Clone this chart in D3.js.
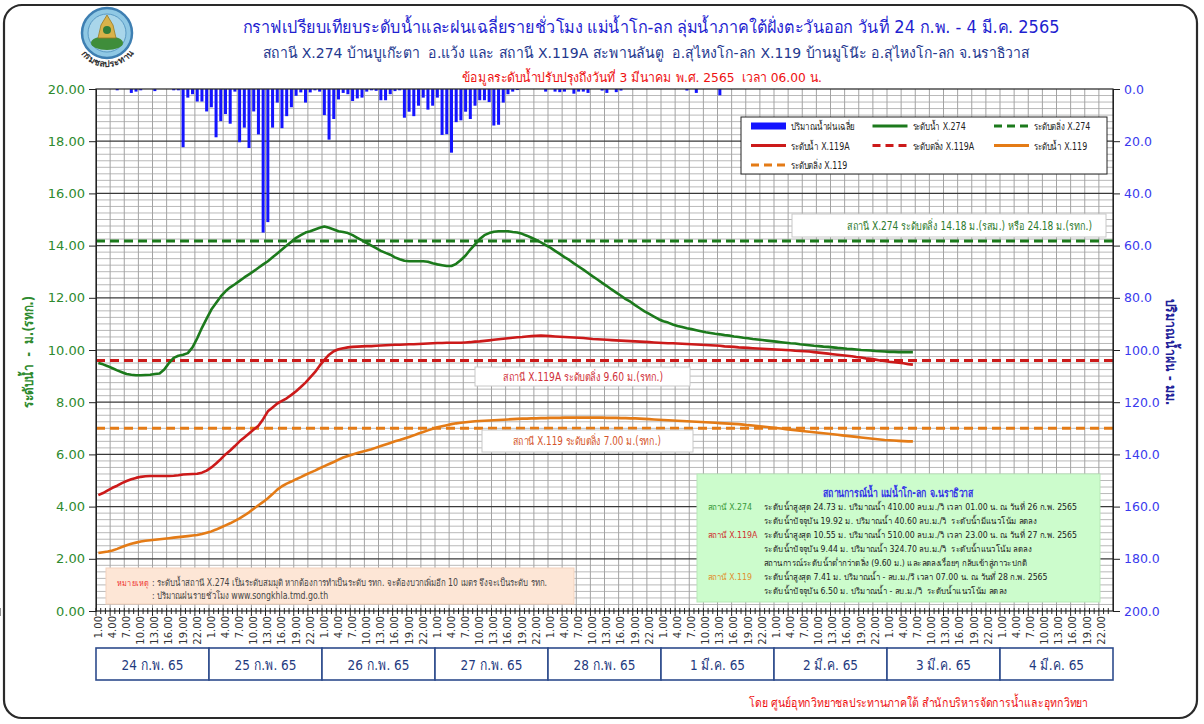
<!DOCTYPE html>
<html>
<head>
<meta charset="utf-8">
<script src="https://cdn.jsdelivr.net/npm/d3@7"></script>
<style>
  html, body { margin: 0; padding: 0; background: #fff; }
  svg { display: block; font-family: Tahoma, "DejaVu Sans", sans-serif; }
</style>
</head>
<body>
<svg id="chart" width="1204" height="724"></svg>
<script>
// ---- categories ----
const days = ['24 ก.พ. 65', '25 ก.พ. 65', '26 ก.พ. 65', '27 ก.พ. 65', '28 ก.พ. 65',
              '1 มี.ค. 65', '2 มี.ค. 65', '3 มี.ค. 65', '4 มี.ค. 65'];
const hours = d3.range(1, 25);            // hourly readings 1.00 .. 24.00
const levelTicks = d3.range(0, 20.001, 2);
const rainTicks = d3.range(0, 200.001, 20);

// ---- bank levels ----
const bankX274 = 14.18;
const bankX119A = 9.60;
const bankX119 = 7.00;

// ---- hourly water level X.274 (m, assumed datum) ----
const levelX274 = [
  9.50, 9.45, 9.38, 9.30, 9.22, 9.15, 9.08, 9.05, 9.03, 9.03, 9.04, 9.05, 9.08, 9.10, 9.25, 9.50, 9.70, 9.78, 9.82, 9.88, 10.10, 10.45, 10.85, 11.20,
  11.55, 11.80, 12.05, 12.25, 12.40, 12.52, 12.65, 12.78, 12.90, 13.02, 13.15, 13.28, 13.40, 13.55, 13.70, 13.85, 14.00, 14.15, 14.30, 14.40, 14.50, 14.55, 14.62, 14.68,
  14.73, 14.68, 14.62, 14.55, 14.52, 14.48, 14.40, 14.30, 14.20, 14.10, 14.00, 13.90, 13.80, 13.72, 13.65, 13.55, 13.48, 13.42, 13.40, 13.40, 13.40, 13.40, 13.38, 13.32,
  13.28, 13.25, 13.22, 13.22, 13.30, 13.45, 13.62, 13.85, 14.05, 14.25, 14.40, 14.48, 14.53, 14.55, 14.55, 14.55, 14.52, 14.50, 14.45, 14.38, 14.30, 14.22, 14.12, 14.02,
  13.92, 13.80, 13.68, 13.56, 13.45, 13.32, 13.20, 13.08, 12.95, 12.82, 12.70, 12.57, 12.45, 12.32, 12.20, 12.08, 11.95, 11.85, 11.72, 11.60, 11.48, 11.38, 11.28, 11.18,
  11.10, 11.05, 10.98, 10.92, 10.88, 10.83, 10.80, 10.76, 10.72, 10.68, 10.65, 10.62, 10.60, 10.57, 10.55, 10.52, 10.50, 10.47, 10.45, 10.42, 10.40, 10.38, 10.36, 10.34,
  10.32, 10.30, 10.28, 10.26, 10.25, 10.22, 10.20, 10.18, 10.16, 10.15, 10.13, 10.12, 10.10, 10.08, 10.07, 10.05, 10.04, 10.02, 10.00, 9.99, 9.98, 9.96, 9.95, 9.94,
  9.93, 9.93, 9.92, 9.92, 9.92, 9.92
];

// ---- hourly water level X.119A (m MSL) ----
const levelX119A = [
  4.44, 4.52, 4.62, 4.72, 4.80, 4.90, 4.98, 5.05, 5.10, 5.14, 5.16, 5.17, 5.17, 5.17, 5.17, 5.17, 5.18, 5.20, 5.23, 5.24, 5.25, 5.26, 5.30, 5.38,
  5.50, 5.65, 5.82, 6.00, 6.15, 6.32, 6.50, 6.65, 6.80, 6.95, 7.10, 7.35, 7.65, 7.80, 7.95, 8.05, 8.15, 8.28, 8.42, 8.58, 8.75, 8.95, 9.15, 9.40,
  9.62, 9.82, 9.95, 10.03, 10.07, 10.10, 10.12, 10.13, 10.14, 10.15, 10.15, 10.16, 10.17, 10.18, 10.19, 10.20, 10.20, 10.21, 10.22, 10.22, 10.23, 10.24, 10.25, 10.26,
  10.27, 10.27, 10.28, 10.28, 10.28, 10.28, 10.29, 10.30, 10.32, 10.33, 10.35, 10.37, 10.39, 10.41, 10.43, 10.45, 10.47, 10.49, 10.50, 10.52, 10.53, 10.54, 10.55, 10.54,
  10.53, 10.52, 10.51, 10.50, 10.49, 10.48, 10.47, 10.46, 10.44, 10.42, 10.41, 10.40, 10.39, 10.38, 10.37, 10.36, 10.35, 10.34, 10.33, 10.32, 10.31, 10.30, 10.29, 10.28,
  10.27, 10.26, 10.26, 10.25, 10.24, 10.23, 10.22, 10.21, 10.20, 10.19, 10.18, 10.17, 10.16, 10.14, 10.13, 10.12, 10.10, 10.09, 10.08, 10.07, 10.06, 10.05, 10.04, 10.03,
  10.02, 10.01, 10.00, 9.99, 9.97, 9.96, 9.95, 9.94, 9.92, 9.90, 9.88, 9.86, 9.84, 9.82, 9.80, 9.78, 9.76, 9.73, 9.71, 9.68, 9.66, 9.63, 9.60, 9.58,
  9.55, 9.53, 9.51, 9.49, 9.46, 9.44
];

// ---- hourly water level X.119 (m MSL) ----
const levelX119 = [
  2.22, 2.25, 2.28, 2.32, 2.38, 2.45, 2.52, 2.58, 2.62, 2.66, 2.69, 2.71, 2.73, 2.75, 2.77, 2.79, 2.81, 2.83, 2.85, 2.87, 2.89, 2.91, 2.95, 3.00,
  3.05, 3.12, 3.20, 3.28, 3.36, 3.45, 3.55, 3.66, 3.78, 3.92, 4.05, 4.18, 4.32, 4.48, 4.65, 4.78, 4.88, 4.96, 5.05, 5.13, 5.22, 5.30, 5.38, 5.47,
  5.55, 5.63, 5.71, 5.80, 5.88, 5.94, 6.00, 6.05, 6.10, 6.15, 6.20, 6.26, 6.32, 6.38, 6.44, 6.50, 6.55, 6.61, 6.67, 6.73, 6.80, 6.86, 6.92, 6.98,
  7.04, 7.08, 7.12, 7.16, 7.19, 7.21, 7.23, 7.25, 7.27, 7.28, 7.29, 7.30, 7.31, 7.32, 7.33, 7.34, 7.35, 7.36, 7.37, 7.37, 7.38, 7.38, 7.39, 7.39,
  7.40, 7.40, 7.40, 7.41, 7.41, 7.41, 7.41, 7.41, 7.41, 7.41, 7.41, 7.41, 7.40, 7.40, 7.40, 7.39, 7.39, 7.38, 7.38, 7.37, 7.36, 7.35, 7.34, 7.33,
  7.32, 7.31, 7.30, 7.29, 7.28, 7.27, 7.26, 7.25, 7.24, 7.23, 7.22, 7.21, 7.20, 7.19, 7.18, 7.17, 7.16, 7.14, 7.12, 7.11, 7.09, 7.07, 7.05, 7.03,
  7.01, 6.99, 6.97, 6.95, 6.93, 6.91, 6.89, 6.87, 6.85, 6.83, 6.81, 6.79, 6.77, 6.75, 6.73, 6.71, 6.69, 6.67, 6.65, 6.63, 6.61, 6.59, 6.57, 6.55,
  6.54, 6.53, 6.52, 6.51, 6.50, 6.50
];

// ---- hourly average rainfall (mm) ----
const rainfall = [
  0, 0, 0, 0, 0.5, 0, 0, 1.5, 1.0, 0.5, 0, 0, 0.8, 0, 0, 0, 0.5, 0.5, 22.3, 3.3, 2.0, 4.8, 4.8, 8.6,
  7.0, 18.5, 12.3, 9.6, 13.3, 1.0, 20.4, 14.8, 22.6, 8.6, 17.4, 55.0, 51.0, 14.8, 5.2, 15.0, 10.4, 7.0, 2.6, 1.3, 5.2, 1.3, 0.5, 1.0,
  10.0, 19.4, 11.5, 4.0, 1.5, 2.0, 4.6, 3.6, 3.3, 1.0, 0.5, 0.7, 4.3, 4.3, 2.0, 0.8, 0.5, 11.0, 8.7, 10.4, 6.4, 3.3, 7.9, 6.4,
  3.3, 17.6, 17.3, 24.4, 12.7, 12.0, 8.7, 11.5, 6.4, 4.3, 4.3, 5.0, 14.0, 13.7, 5.2, 2.0, 1.0, 0.4, 0, 0, 0, 0, 0, 1.0,
  0, 1.0, 1.2, 1.0, 0, 1.8, 1.0, 1.0, 1.5, 0, 0, 0.6, 1.5, 0, 1.2, 0.6, 0, 0, 0, 0, 0, 0, 0, 0,
  0, 0, 0, 0, 0, 0.6, 0, 1.5, 0, 0, 0, 0, 2.4, 0, 0, 0, 0, 0, 0, 0, 0, 0, 0, 0
];

// ---- colours ----
const C = {
  green: '#1c7a1c', red: '#cc1a1a', orange: '#e47b16', rain: '#1414ff',
  axisGreen: '#2e8a2e', axisBlue: '#3a3aee', navy: '#23408c'
};

// ---- layout ----
const plot = { left: 96, right: 1113, top: 89, bottom: 611 };
const nCat = days.length * hours.length;
const categories = days.flatMap((d, di) => hours.map(h => ({ day: di, hour: h })));

const svg = d3.select('#chart');

// condense a text horizontally so that it spans at most the given width;
// returns the ratio applied so sibling lines can share it
function squeeze(sel, width) {
  const len = sel.node().getComputedTextLength();
  const r = Math.min(1, width / len);
  if (r < 1) sel.attr('textLength', len * r).attr('lengthAdjust', 'spacingAndGlyphs');
  return r;
}
function squeezeBy(sel, r) {
  const len = sel.node().getComputedTextLength();
  if (r < 1) sel.attr('textLength', len * r).attr('lengthAdjust', 'spacingAndGlyphs');
}

const x = d3.scaleBand().domain(d3.range(nCat))
  .range([plot.left, plot.right]).paddingInner(0.36).paddingOuter(0.18);
const cx = i => x(i) + x.bandwidth() / 2;
const edge = i => x(i) - (x.step() - x.bandwidth()) / 2;   // category boundary
const yLevel = d3.scaleLinear().domain([0, 20]).range([plot.bottom, plot.top]);
const yRain = d3.scaleLinear().domain([0, 200]).range([plot.top, plot.bottom]);

// outer frame
svg.append('rect').attr('x', 4).attr('y', 5).attr('width', 1193).attr('height', 713)
  .attr('rx', 18).attr('fill', '#fff').attr('stroke', '#2a2a2a').attr('stroke-width', 2.2);

// ---- emblem ----
const logo = svg.append('g').attr('transform', 'translate(107,33)');
logo.append('circle').attr('r', 25).attr('fill', '#8fc8e4').attr('stroke', '#3e7fb2').attr('stroke-width', 2.5);
logo.append('circle').attr('r', 19).attr('fill', '#a9d6ea').attr('stroke', '#5a9ac4').attr('stroke-width', 1);
logo.append('ellipse').attr('cx', 0).attr('cy', 10).attr('rx', 16).attr('ry', 7).attr('fill', '#3f8d3a');
logo.append('path').attr('d', 'M0,-18 L6,-8 L9,5 L-9,5 L-6,-8 Z').attr('fill', '#d8b24a').attr('stroke', '#9a7a22').attr('stroke-width', 0.8);
logo.append('circle').attr('cx', 0).attr('cy', -3).attr('r', 4).attr('fill', '#2f7d3a');
logo.append('path').attr('id', 'logoArc').attr('d', 'M-31,12 A33,33 0 0,0 31,12').attr('fill', 'none');
logo.append('text').attr('font-size', 9).attr('font-weight', 'bold').attr('fill', '#333')
  .append('textPath').attr('href', '#logoArc').attr('startOffset', '50%').attr('text-anchor', 'middle')
  .text('กรมชลประทาน');

// ---- titles ----
const t1 = svg.append('text').attr('x', 651).attr('y', 33).attr('text-anchor', 'middle')
  .attr('font-size', 17).attr('fill', '#1f1fd0')
  .text('กราฟเปรียบเทียบระดับน้ำและฝนเฉลี่ยรายชั่วโมง แม่น้ำโก-ลก ลุ่มน้ำภาคใต้ฝั่งตะวันออก วันที่ 24 ก.พ. - 4 มี.ค. 2565');
squeeze(t1, 817);
const t2 = svg.append('text').attr('x', 646).attr('y', 58).attr('text-anchor', 'middle')
  .attr('font-size', 14.5).attr('fill', '#24388e').style('white-space', 'pre')
  .text('สถานี X.274 บ้านบูเก๊ะตา  อ.แว้ง และ สถานี X.119A สะพานลันตู  อ.สุไหงโก-ลก X.119 บ้านมูโน๊ะ อ.สุไหงโก-ลก จ.นราธิวาส');
squeeze(t2, 767);
const t3 = svg.append('text').attr('x', 642).attr('y', 82).attr('text-anchor', 'middle')
  .attr('font-size', 13).attr('fill', '#ee1111').style('white-space', 'pre')
  .text('ข้อมูลระดับน้ำปรับปรุงถึงวันที่ 3 มีนาคม พ.ศ. 2565  เวลา 06.00 น.');
squeeze(t3, 360);

// ---- grid ----
const grid = svg.append('g');
grid.append('rect').attr('x', plot.left).attr('y', plot.top)
  .attr('width', plot.right - plot.left).attr('height', plot.bottom - plot.top).attr('fill', '#fff');
const minorLevels = d3.range(0, 20.001, 0.25).filter(v => Math.abs(v / 2 - Math.round(v / 2)) > 1e-6);
grid.selectAll('.hminor').data(minorLevels).join('line')
  .attr('x1', plot.left).attr('x2', plot.right)
  .attr('y1', d => yLevel(d)).attr('y2', d => yLevel(d))
  .attr('stroke', '#b9b9b9').attr('stroke-width', 1);
grid.selectAll('.vgrid').data(d3.range(3, nCat, 3)).join('line')
  .attr('x1', d => edge(d)).attr('x2', d => edge(d))
  .attr('y1', plot.top).attr('y2', plot.bottom)
  .attr('stroke', '#a3a3a3').attr('stroke-width', 1);
grid.selectAll('.hmajor').data(levelTicks.slice(1, -1)).join('line')
  .attr('x1', plot.left).attr('x2', plot.right)
  .attr('y1', d => yLevel(d)).attr('y2', d => yLevel(d))
  .attr('stroke', '#3a3a3a').attr('stroke-width', 1.2);

// ---- rainfall bars (hanging from the top, secondary axis) ----
svg.append('g').selectAll('rect').data(rainfall.map((v, i) => ({ v, i })).filter(d => d.v > 0)).join('rect')
  .attr('x', d => x(d.i)).attr('width', x.bandwidth())
  .attr('y', yRain(0)).attr('height', d => yRain(d.v) - yRain(0))
  .attr('fill', C.rain);

// ---- bank level lines ----
const banks = [
  { v: bankX274, color: C.green },
  { v: bankX119A, color: C.red },
  { v: bankX119, color: C.orange }
];
svg.append('g').selectAll('line').data(banks).join('line')
  .attr('x1', plot.left).attr('x2', plot.right)
  .attr('y1', d => yLevel(d.v)).attr('y2', d => yLevel(d.v))
  .attr('stroke', d => d.color).attr('stroke-width', 3).attr('stroke-dasharray', '9,5');

// ---- water level lines ----
const line = d3.line().x((d, i) => cx(i)).y(d => yLevel(d));
[[levelX119, C.orange], [levelX119A, C.red], [levelX274, C.green]].forEach(([s, col]) => {
  svg.append('path').datum(s).attr('d', line).attr('fill', 'none')
    .attr('stroke', col).attr('stroke-width', 2.6).attr('stroke-linejoin', 'round');
});

// ---- plot frame ----
svg.append('rect').attr('x', plot.left).attr('y', plot.top)
  .attr('width', plot.right - plot.left).attr('height', plot.bottom - plot.top)
  .attr('fill', 'none').attr('stroke', '#222').attr('stroke-width', 1.2);

// ---- left axis ----
const gL = svg.append('g').attr('transform', `translate(${plot.left},0)`);
gL.call(d3.axisLeft(yLevel).tickValues(d3.range(0, 20.001, 0.25)).tickSize(-4).tickFormat(''));
gL.call(d3.axisLeft(yLevel).tickValues(levelTicks).tickSize(7).tickPadding(4).tickFormat(d3.format('.2f')));
gL.selectAll('text').attr('font-size', 13).attr('font-family', 'Tahoma, "DejaVu Sans", sans-serif').attr('fill', C.axisGreen);
gL.selectAll('line').attr('stroke', '#222');
gL.selectAll('.domain').attr('stroke', '#222');

// ---- right axis ----
const gR = svg.append('g').attr('transform', `translate(${plot.right},0)`);
gR.call(d3.axisRight(yRain).tickValues(d3.range(0, 200.001, 2.5)).tickSize(-4).tickFormat(''));
gR.call(d3.axisRight(yRain).tickValues(rainTicks).tickSize(7).tickPadding(4).tickFormat(d3.format('.1f')));
gR.selectAll('text').attr('font-size', 12.5).attr('font-family', 'Tahoma, "DejaVu Sans", sans-serif').attr('fill', C.axisBlue);
gR.selectAll('line').attr('stroke', '#222');
gR.selectAll('.domain').attr('stroke', '#222');

// ---- axis titles ----
const yTitleL = svg.append('text').attr('transform', 'translate(33,352) rotate(-90)').attr('text-anchor', 'middle')
  .attr('font-size', 14).attr('font-weight', 'bold').attr('fill', C.axisGreen).style('white-space', 'pre')
  .text('ระดับน้ำ  -  ม.(รทก.)');
squeeze(yTitleL, 112);
const yTitleR = svg.append('text').attr('transform', 'translate(1166,352) rotate(90)').attr('text-anchor', 'middle')
  .attr('font-size', 14).attr('font-weight', 'bold').attr('fill', '#22229a')
  .text('ปริมาณน้ำฝน - มม.');
squeeze(yTitleR, 107);

// ---- bottom axis: hour ticks and labels ----
const gB = svg.append('g');
gB.selectAll('line.tk').data(d3.range(0, nCat + 1)).join('line')
  .attr('x1', d => edge(d)).attr('x2', d => edge(d))
  .attr('y1', plot.bottom - 3).attr('y2', d => plot.bottom + (d % 3 === 0 ? 5 : 3))
  .attr('stroke', '#222').attr('stroke-width', 1);
gB.selectAll('text').data(d3.range(0, nCat, 3)).join('text')
  .attr('transform', d => `translate(${cx(d) + 3.5},616) rotate(-90)`)
  .attr('text-anchor', 'end').attr('font-size', 10).attr('fill', '#333')
  .text(d => categories[d].hour.toFixed(2));

// ---- day boxes ----
const gD = svg.append('g');
let dayRatio = null;
days.forEach((d, di) => {
  const a = edge(di * 24), b = di === days.length - 1 ? plot.right : edge(di * 24 + 24);
  gD.append('rect').attr('x', a).attr('y', 648).attr('width', b - a).attr('height', 32)
    .attr('fill', '#fff').attr('stroke', '#2d4b8c').attr('stroke-width', 1.6);
  const t = gD.append('text').attr('x', (a + b) / 2).attr('y', 670).attr('text-anchor', 'middle')
    .attr('font-size', 14.5).attr('fill', '#1f3a80').text(d);
  if (dayRatio === null) dayRatio = squeeze(t, 62); else squeezeBy(t, dayRatio);
});

// ---- bank annotations ----
function labelBox(x0, y0, w, h, txt, color, anchor, tx, tw) {
  svg.append('rect').attr('x', x0).attr('y', y0).attr('width', w).attr('height', h)
    .attr('fill', '#fff').attr('stroke', '#c8c8c8').attr('stroke-width', 1);
  const t = svg.append('text').attr('x', tx).attr('y', y0 + h / 2 + 4).attr('text-anchor', anchor)
    .attr('font-size', 11.5).attr('fill', color).text(txt);
  squeeze(t, tw);
}
labelBox(792, 214, 314, 23, 'สถานี X.274 ระดับตลิ่ง 14.18 ม.(รสม.) หรือ 24.18 ม.(รทก.)', '#2c7a2c', 'end', 1092, 245);
labelBox(475, 367, 215, 19, 'สถานี X.119A ระดับตลิ่ง 9.60 ม.(รทก.)', '#d0303a', 'middle', 583, 160);
labelBox(482, 430, 211, 22, 'สถานี X.119 ระดับตลิ่ง 7.00 ม.(รทก.)', '#d4552a', 'middle', 587, 148);

// ---- legend ----
const legendItems = [
  { label: 'ปริมาณน้ำฝนเฉลี่ย', type: 'bar', color: C.rain },
  { label: 'ระดับน้ำ X.274', type: 'line', color: C.green },
  { label: 'ระดับตลิ่ง X.274', type: 'dash', color: C.green },
  { label: 'ระดับน้ำ X.119A', type: 'line', color: C.red },
  { label: 'ระดับตลิ่ง X.119A', type: 'dash', color: C.red },
  { label: 'ระดับน้ำ X.119', type: 'line', color: C.orange },
  { label: 'ระดับตลิ่ง X.119', type: 'dash', color: C.orange }
];
const gLeg = svg.append('g');
gLeg.append('rect').attr('x', 741).attr('y', 117).attr('width', 366).attr('height', 57)
  .attr('fill', '#fff').attr('stroke', '#222').attr('stroke-width', 1);
let legRatio = null;
legendItems.forEach((it, k) => {
  const col = k % 3, row = Math.floor(k / 3);
  const lx = 751 + col * 121.5, ly = 126 + row * 19.5;
  if (it.type === 'bar') {
    gLeg.append('rect').attr('x', lx).attr('y', ly - 3.5).attr('width', 35).attr('height', 7).attr('fill', it.color);
  } else {
    gLeg.append('line').attr('x1', lx).attr('x2', lx + 35).attr('y1', ly).attr('y2', ly)
      .attr('stroke', it.color).attr('stroke-width', 3)
      .attr('stroke-dasharray', it.type === 'dash' ? '8,5' : null);
  }
  const t = gLeg.append('text').attr('x', lx + 40).attr('y', ly + 4).attr('font-size', 10)
    .attr('fill', '#222').text(it.label);
  if (legRatio === null) legRatio = squeeze(t, 64); else squeezeBy(t, legRatio);
});

// ---- status box ----
const gS = svg.append('g');
gS.append('rect').attr('x', 697).attr('y', 474).attr('width', 403).attr('height', 128)
  .attr('fill', '#ccfccc').attr('stroke', '#b8e8b8').attr('stroke-width', 1);
const sTitle = gS.append('text').attr('x', 898).attr('y', 497).attr('text-anchor', 'middle')
  .attr('font-size', 11.5).attr('font-weight', 'bold').attr('fill', '#3434e8')
  .text('สถานการณ์น้ำ แม่น้ำโก-ลก จ.นราธิวาส');
squeeze(sTitle, 150);
const statusRows = [
  { y: 510, tag: 'สถานี X.274', tagColor: '#3a9a3a', text: 'ระดับน้ำสูงสุด 24.73 ม. ปริมาณน้ำ 410.00 ลบ.ม./วิ เวลา 01.00 น. ณ วันที่ 26 ก.พ. 2565' },
  { y: 524, text: 'ระดับน้ำปัจจุบัน 19.92 ม. ปริมาณน้ำ 40.60 ลบ.ม./วิ  ระดับน้ำมีแนวโน้ม ลดลง' },
  { y: 538, tag: 'สถานี X.119A', tagColor: '#d03030', text: 'ระดับน้ำสูงสุด 10.55 ม. ปริมาณน้ำ 510.00 ลบ.ม./วิ เวลา 23.00 น. ณ วันที่ 27 ก.พ. 2565' },
  { y: 552, text: 'ระดับน้ำปัจจุบัน 9.44 ม. ปริมาณน้ำ 324.70 ลบ.ม./วิ  ระดับน้ำแนวโน้ม ลดลง' },
  { y: 566, text: 'สถานการณ์ระดับน้ำต่ำกว่าตลิ่ง (9.60 ม.) และลดลงเรื่อยๆ กลับเข้าสู่ภาวะปกติ' },
  { y: 580, tag: 'สถานี X.119', tagColor: '#e0902e', text: 'ระดับน้ำสูงสุด 7.41 ม. ปริมาณน้ำ - ลบ.ม./วิ เวลา 07.00 น. ณ วันที่ 28 ก.พ. 2565' },
  { y: 594, text: 'ระดับน้ำปัจจุบัน 6.50 ม. ปริมาณน้ำ - ลบ.ม./วิ  ระดับน้ำแนวโน้ม ลดลง' }
];
let rowRatio = null, tagRatio = null;
statusRows.forEach(r => {
  if (r.tag) {
    const tg = gS.append('text').attr('x', 708).attr('y', r.y).attr('font-size', 8.8)
      .attr('fill', r.tagColor).text(r.tag);
    if (tagRatio === null) tagRatio = squeeze(tg, 44); else squeezeBy(tg, tagRatio);
  }
  const t = gS.append('text').attr('x', 764).attr('y', r.y).attr('font-size', 8.8)
    .attr('fill', '#222').style('white-space', 'pre').text(r.text);
  if (rowRatio === null) rowRatio = squeeze(t, 313); else squeezeBy(t, rowRatio);
});

// ---- remark box ----
const gN = svg.append('g');
gN.append('rect').attr('x', 106).attr('y', 568).attr('width', 468).attr('height', 36)
  .attr('fill', '#fde6d6').attr('stroke', '#f3d2bd').attr('stroke-width', 1);
const n1 = gN.append('text').attr('x', 152).attr('y', 586).attr('font-size', 9.6).attr('fill', '#444')
  .text(': ระดับน้ำสถานี X.274 เป็นระดับสมมุติ หากต้องการทำเป็นระดับ รทก. จะต้องบวกเพิ่มอีก 10 เมตร จึงจะเป็นระดับ รทก.');
const noteRatio = squeeze(n1, 395);
const n2 = gN.append('text').attr('x', 152).attr('y', 599).attr('font-size', 9.6).attr('fill', '#444')
  .text(': ปริมาณฝนรายชั่วโมง www.songkhla.tmd.go.th');
squeezeBy(n2, noteRatio);
const n0 = gN.append('text').attr('x', 117).attr('y', 586).attr('font-size', 8.4).attr('fill', '#ee3030').text('หมายเหตุ');
squeeze(n0, 31);

// ---- credit ----
const credit = svg.append('text').attr('x', 1088).attr('y', 707).attr('text-anchor', 'end')
  .attr('font-size', 12.5).attr('fill', '#ee1111')
  .text('โดย ศูนย์อุทกวิทยาชลประทานภาคใต้ สำนักบริหารจัดการน้ำและอุทกวิทยา');
squeeze(credit, 339);
</script>
</body>
</html>
